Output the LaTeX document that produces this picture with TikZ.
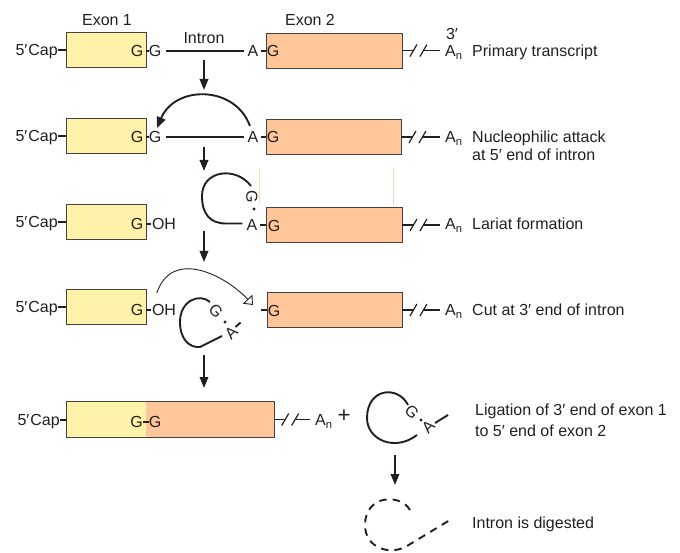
\documentclass[tikz,border=0pt]{standalone}
\usepackage{fontspec}
\setmainfont{Liberation Sans}
\usetikzlibrary{arrows.meta,calc}
\definecolor{exyel}{HTML}{FFF2A9}
\definecolor{exorg}{HTML}{FEC699}
\definecolor{faintor}{HTML}{F9D5BA}
\definecolor{ink}{HTML}{231F20}
\newcommand\breakline[2]{%
  \draw[tk] (#1.east) -- ([xshift=11pt]#1.east);
  \draw[tk] ([xshift=21pt]#1.east) -- ($(#2.west |- #1.east)+(-5,0)$);
  \draw[sl] ([xshift=7.5pt,yshift=-6pt]#1.east) -- ([xshift=14.5pt,yshift=6pt]#1.east);
  \draw[sl] ([xshift=17.5pt,yshift=-6pt]#1.east) -- ([xshift=24.5pt,yshift=6pt]#1.east);
}
\begin{document}
\begin{tikzpicture}[x=1pt,y=-1pt,
  txt/.style={font=\fontsize{16}{19}\selectfont, inner sep=0pt, text=ink, text height=11.5pt, text depth=0pt},
  box/.style={draw=ink!85, line width=0.9pt, minimum height=35pt, inner sep=0pt},
  ln/.style={line width=1.9pt, draw=ink},
  tk/.style={line width=1.9pt, draw=ink},
  sl/.style={line width=1.2pt, draw=ink},
  arr/.style={line width=1.9pt, draw=ink, -{Triangle[length=11pt,width=8.5pt]}},
  thinarr/.style={line width=0.9pt, draw=ink, -{Triangle[open,length=8pt,width=13pt,line width=0.9pt]}},
  dotn/.style={circle, fill=ink, inner sep=0pt, minimum size=3.4pt},
]
\useasboundingbox (0,0) rectangle (680,553);

% ---------- Row 1 ----------
\node[box, fill=exyel, minimum width=80pt] (e1r1) at (106,49.5) {};
\node[box, fill=exorg, minimum width=136pt] (e2r1) at (334,50.5) {};
\node[txt] (x1) at (107,20) {Exon 1};
\node[txt] (x2) at (310,20) {Exon 2};
\node[txt, anchor=east] (cap1) at (58,50) {5′\kern1pt Cap};
\draw[tk] (cap1.east) -- (cap1.east -| e1r1.west);
\node[txt] (ga1) at (137,51) {G};
\node[txt] (gb1) at (155,51) {G};
\draw[tk] (ga1.east -| e1r1.east) -- (gb1.west);
\node[txt] (in1) at (204,38) {Intron};
\node[txt] (aa1) at (253,51) {A};
\node[txt] (gc1) at (273,51) {G};
\draw[ln, shorten <=5pt, shorten >=3pt] (gb1) -- (aa1);
\draw[tk, shorten <=2pt] (aa1.east) -- (aa1.east -| e2r1.west);
\node[txt, anchor=west] (an1) at (445,51) {A\textsubscript{n}};
\node[txt] (p31) at (452,34) {3′};
\breakline{e2r1}{an1}
\node[txt, anchor=west] (l1) at (472,51) {Primary transcript};

\coordinate (s1) at (204,60); \coordinate (t1) at (204,90);
\draw[arr] (s1) -- (t1);

% ---------- Row 2 ----------
\node[box, fill=exyel, minimum width=80pt] (e1r2) at (106,135.5) {};
\node[box, fill=exorg, minimum width=135pt] (e2r2) at (333.5,137) {};
\node[txt, anchor=east] (cap2) at (58,136) {5′\kern1pt Cap};
\draw[tk] (cap2.east) -- (cap2.east -| e1r2.west);
\node[txt] (ga2) at (137,137) {G};
\node[txt] (gb2) at (155,137) {G};
\draw[tk] (ga2.east -| e1r2.east) -- (gb2.west);
\node[txt] (aa2) at (253,137) {A};
\node[txt] (gc2) at (273,137) {G};
\draw[ln, shorten <=5pt, shorten >=3pt] (gb2) -- (aa2);
\draw[tk, shorten <=2pt] (aa2.east) -- (aa2.east -| e2r2.west);
\node[txt, anchor=west] (an2) at (445,137) {A\textsubscript{n}};
\breakline{e2r2}{an2}
\node[txt, anchor=west] (l2a) at (472,137) {Nucleophilic attack};
\node[txt, anchor=west] (l2b) at (472,155) {at 5′ end of intron};
\draw[ln, -{Triangle[length=11pt,width=9pt]}] ([xshift=-3pt,yshift=5pt]aa2.north) .. controls (235,85) and (175,85) .. ([xshift=2pt,yshift=3pt]gb2.north);

\coordinate (s2) at (204,147); \coordinate (t2) at (204,171);
\draw[arr] (s2) -- (t2);

% ---------- Row 3 ----------
\draw[faintor, line width=1pt] (259,169) -- (259,203);
\draw[faintor, line width=1pt] (393,168) -- (393,205);
\node[box, fill=exyel, minimum width=80pt] (e1r3) at (106,222) {};
\node[box, fill=exorg, minimum width=136pt] (e2r3) at (334,225) {};
\node[txt, anchor=east] (cap3) at (58,222) {5′\kern1pt Cap};
\draw[tk] (cap3.east) -- (cap3.east -| e1r3.west);
\node[txt] (ga3) at (137,224) {G};
\node[txt] (oh3) at (164,224) {OH};
\draw[tk, shorten >=1pt] (ga3.east -| e1r3.east) -- (oh3.west);
\node[txt, rotate=-90] (gl3) at (252,197) {G};
\node[dotn] (d3) at (254,209) {};
\node[txt] (aa3) at (252,225) {A};
\node[txt] (gc3) at (274,226) {G};
\draw[tk, shorten <=2pt] (aa3.east) -- (aa3.east -| e2r3.west);
\draw[ln] ([xshift=-1pt,yshift=11pt]gl3.center) .. controls (236,166) and (202,170) .. (202,196) .. controls (202,214) and (210,223.5) .. (226,223.5) -- ([xshift=-4pt,yshift=1.5pt]aa3.west);
\node[txt, anchor=west] (an3) at (445,224) {A\textsubscript{n}};
\breakline{e2r3}{an3}
\node[txt, anchor=west] (l3) at (472,223.5) {Lariat formation};

\coordinate (s3) at (204,231); \coordinate (t3) at (204,262);
\draw[arr] (s3) -- (t3);

% ---------- Row 4 ----------
\node[box, fill=exyel, minimum width=80pt] (e1r4) at (106,307) {};
\node[box, fill=exorg, minimum width=135pt] (e2r4) at (334.5,310) {};
\node[txt, anchor=east] (cap4) at (58,307) {5′\kern1pt Cap};
\draw[tk] (cap4.east) -- (cap4.east -| e1r4.west);
\node[txt] (ga4) at (137,310) {G};
\node[txt] (oh4) at (164,310) {OH};
\draw[tk, shorten >=1pt] (ga4.east -| e1r4.east) -- (oh4.west);
\node[txt] (gc4) at (274,311) {G};
\draw[tk] ([xshift=-6pt]e2r4.west) -- (e2r4.west);
\coordinate (cut4) at (253,305);
\draw[thinarr] ([xshift=5pt,yshift=17pt]oh4.west) .. controls (172,248) and (225,275) .. (cut4);
\node[txt, rotate=-45] (gl4) at (216,311) {G};
\node[dotn] (d4) at (225,322) {};
\node[txt, rotate=45] (al4) at (231,333) {A};
\draw[tk] (235.5,327) -- (240.5,322.5);
\draw[ln] (210,302) .. controls (200,293) and (180,300) .. (180,322) .. controls (180,340) and (190,348) .. (200,347) -- (222,336);
\node[txt, anchor=west] (an4) at (445,310) {A\textsubscript{n}};
\breakline{e2r4}{an4}
\node[txt, anchor=west] (l4) at (472,310) {Cut at 3′ end of intron};

\coordinate (s4) at (204,355); \coordinate (t4) at (204,388);
\draw[arr] (s4) -- (t4);

% ---------- Row 5 ----------
\node[fill=exyel, minimum width=79pt, minimum height=35pt, inner sep=0pt] (e1r5) at (106.5,419.5) {};
\node[fill=exorg, minimum width=128pt, minimum height=35pt, inner sep=0pt] (e2r5) at (210,419.5) {};
\draw[draw=ink!85, line width=0.9pt] (e1r5.north west) rectangle (e2r5.south east);
\node[txt, anchor=east] (cap5) at (60,420) {5′\kern1pt Cap};
\draw[tk] (cap5.east) -- (cap5.east -| e1r5.west);
\node[txt] (g5a) at (136.5,422) {G};
\node[txt] (g5b) at (155,422) {G};
\draw[tk] (g5a.east) -- (g5b.west);
\node[txt, anchor=west] (an5) at (315,420) {A\textsubscript{n}};
\breakline{e2r5}{an5}
\node[txt, font=\fontsize{22}{24}\selectfont] (plus) at (344,417) {+};
\node[txt, rotate=-45] (gl5) at (412,412) {G};
\node[dotn] (d5) at (421,420) {};
\node[txt, rotate=45] (al5) at (428,427) {A};
\draw[tk] (435,423) -- (448,415);
\draw[ln] (408,405) .. controls (398,385) and (367,388) .. (367,418) .. controls (367,440) and (395,452) .. (417,435);
\node[txt, anchor=west] (l5a) at (475,410) {Ligation of 3′ end of exon 1};
\node[txt, anchor=west] (l5b) at (475,431) {to 5′ end of exon 2};

\coordinate (s5) at (395,455); \coordinate (t5) at (395,485);
\draw[arr] (s5) -- (t5);

% ---------- Row 6 ----------
\draw[ln, dash pattern=on 7.5pt off 6pt] (410,510) .. controls (400,493) and (365,495) .. (365,525) .. controls (365,548) and (390,556) .. (407,546) -- (450,520);
\node[txt, anchor=west] (l6) at (472,523) {Intron is digested};
\end{tikzpicture}
\end{document}
